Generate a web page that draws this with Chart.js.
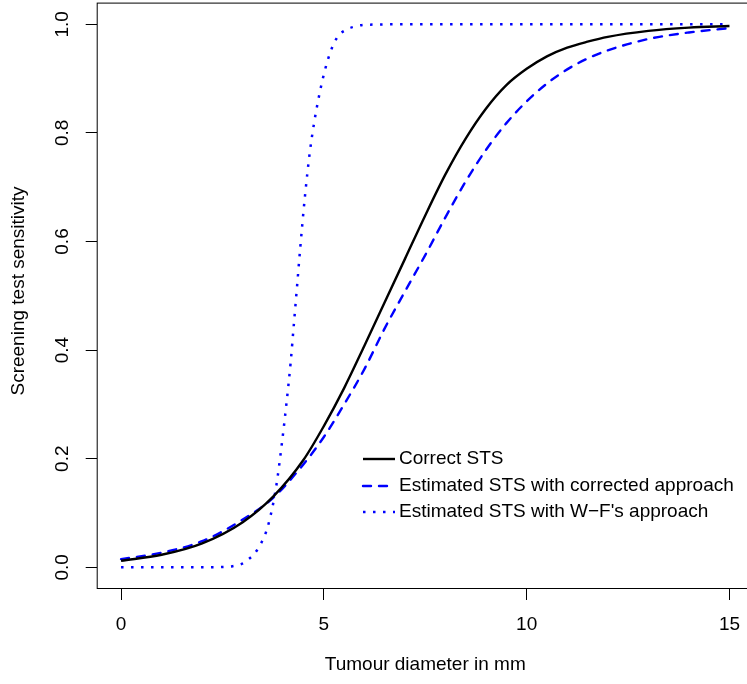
<!DOCTYPE html>
<html lang="en">
<head>
    <meta charset="UTF-8">
    <title>Screening test sensitivity</title>
    <script src="https://cdn.jsdelivr.net/npm/chart.js"></script>
    <style>
        html, body { margin: 0; padding: 0; overflow: hidden; background: #fff; }
    </style>
</head>
<body>
    <canvas id="stsChart" width="760" height="684"></canvas>

    <script>
        // tumour diameter (mm) grid for the two smooth curves
        const diam = [0, 1, 2, 3, 3.75, 4.5, 5, 5.5, 6, 6.5, 7, 7.5, 8, 8.5, 9, 9.5, 10, 10.5, 11, 11.5, 12, 13, 14, 15];
        const correctSTS = [0.012, 0.023, 0.044, 0.083, 0.13, 0.198, 0.26, 0.33, 0.408, 0.488, 0.568, 0.648, 0.724, 0.79, 0.845, 0.888, 0.918, 0.941, 0.957, 0.968, 0.977, 0.988, 0.994, 0.997];
        const correctedSTS = [0.015, 0.027, 0.048, 0.088, 0.128, 0.19, 0.24, 0.3, 0.365, 0.44, 0.508, 0.575, 0.645, 0.711, 0.769, 0.818, 0.858, 0.891, 0.917, 0.937, 0.952, 0.973, 0.985, 0.993];

        // W-F curve is steep, read on its own grid
        const wfDiam = [0, 1, 2, 2.5, 2.75, 3, 3.11, 3.29, 3.42, 3.53, 3.61, 3.67, 3.77, 3.85, 3.97, 4.08, 4.18, 4.26, 4.34, 4.42, 4.53, 4.66, 4.86, 5.1, 5.33, 5.55, 5.72, 6, 7, 8, 9, 10, 11, 12, 13, 14, 15];
        const wfSTS = [0, 0, 0, 0.0005, 0.002, 0.007, 0.013, 0.025, 0.04, 0.056, 0.073, 0.09, 0.125, 0.161, 0.231, 0.303, 0.376, 0.447, 0.518, 0.59, 0.68, 0.768, 0.86, 0.935, 0.976, 0.99, 0.995, 0.999, 1, 1, 1, 1, 1, 1, 1, 1, 1];

        const xTicks = [0, 5, 10, 15];
        const yTicks = [0, 0.2, 0.4, 0.6, 0.8, 1.0];
        const seriesNames = ['Correct STS', 'Estimated STS with corrected approach', 'Estimated STS with W\u2212F\'s approach'];

        const FONT = '"Liberation Sans", Arial, sans-serif';
        const pts = (xs, ys) => xs.map((x, i) => ({ x: x, y: ys[i] }));

        // R style box, tick labels, titles and legend
        const rDecor = {
            id: 'rDecor',
            afterDraw(chart) {
                const ctx = chart.ctx;
                const a = chart.chartArea;
                const xs = chart.scales.x, ys = chart.scales.y;
                ctx.save();
                ctx.strokeStyle = '#000';
                ctx.lineWidth = 1;
                ctx.strokeRect(a.left + 0.5, a.top + 0.5, a.right - a.left - 1, a.bottom - a.top - 1);

                ctx.fillStyle = '#000';
                ctx.font = '19px ' + FONT;
                ctx.textAlign = 'center';
                ctx.textBaseline = 'middle';
                xTicks.forEach(v => ctx.fillText(String(v), xs.getPixelForValue(v), 625));
                yTicks.forEach(v => {
                    ctx.save();
                    ctx.translate(63, ys.getPixelForValue(v));
                    ctx.rotate(-Math.PI / 2);
                    ctx.fillText(v.toFixed(1), 0, 0);
                    ctx.restore();
                });
                ctx.fillText('Tumour diameter in mm', (a.left + a.right) / 2, 665);
                ctx.save();
                ctx.translate(19, 291);
                ctx.rotate(-Math.PI / 2);
                ctx.fillText('Screening test sensitivity', 0, 0);
                ctx.restore();

                // legend
                const rows = [459, 486, 512];
                chart.data.datasets.forEach((ds, i) => {
                    ctx.save();
                    ctx.strokeStyle = ds.borderColor;
                    ctx.lineWidth = ds.borderWidth;
                    ctx.lineCap = ds.borderCapStyle || 'butt';
                    ctx.setLineDash(ds.borderDash || []);
                    ctx.beginPath();
                    ctx.moveTo(363, rows[i]);
                    ctx.lineTo(395, rows[i]);
                    ctx.stroke();
                    ctx.restore();
                    ctx.textAlign = 'left';
                    ctx.fillText(seriesNames[i], 399, rows[i]);
                });
                ctx.restore();
            }
        };

        new Chart(document.getElementById('stsChart').getContext('2d'), {
            type: 'line',
            data: {
                datasets: [{
                    data: pts(diam, correctSTS),
                    borderColor: '#000000',
                    borderWidth: 2.4,
                    cubicInterpolationMode: 'monotone',
                    pointRadius: 0
                }, {
                    data: pts(diam, correctedSTS),
                    borderColor: '#0000ff',
                    borderWidth: 2.4,
                    borderDash: [8, 8],
                    borderCapStyle: 'round',
                    cubicInterpolationMode: 'monotone',
                    pointRadius: 0
                }, {
                    data: pts(wfDiam, wfSTS),
                    borderColor: '#0000ff',
                    borderWidth: 2.5,
                    borderDash: [2.5, 7.5],
                    borderCapStyle: 'butt',
                    cubicInterpolationMode: 'monotone',
                    pointRadius: 0
                }]
            },
            options: {
                responsive: false,
                animation: false,
                devicePixelRatio: 1,
                layout: { padding: { top: 2.6, right: 6.2, left: 0, bottom: 0 } },
                plugins: { legend: { display: false }, tooltip: { enabled: false } },
                scales: {
                    x: {
                        type: 'linear',
                        min: -0.6,
                        max: 15.6,
                        afterBuildTicks: s => { s.ticks = xTicks.map(v => ({ value: v })); },
                        afterFit: s => { s.height = 95; },
                        ticks: { display: false },
                        border: { display: false },
                        grid: { drawOnChartArea: false, drawTicks: true, tickLength: 11, color: '#000', lineWidth: 1 }
                    },
                    y: {
                        type: 'linear',
                        min: -0.04,
                        max: 1.04,
                        afterBuildTicks: s => { s.ticks = yTicks.map(v => ({ value: v })); },
                        afterFit: s => { s.width = 96.7; },
                        ticks: { display: false },
                        border: { display: false },
                        grid: { drawOnChartArea: false, drawTicks: true, tickLength: 11, color: '#000', lineWidth: 1 }
                    }
                }
            },
            plugins: [rDecor]
        });
    </script>
</body>
</html>
